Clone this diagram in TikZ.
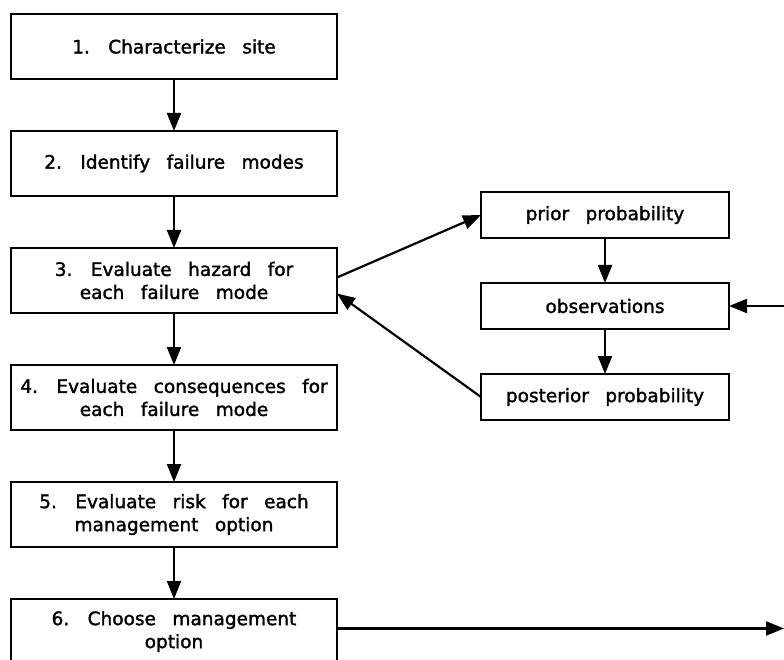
\documentclass[tikz,border=0pt]{standalone}
\usepackage{fontspec}
\setmainfont{DejaVu Sans}[WordSpace=2.8,FakeBold=1.6]
\usepackage{tikz}
\usetikzlibrary{arrows.meta,positioning}
\tikzset{
  paso/.style={
    draw=black,
    line width=2.2pt,
    outer sep=0pt,
    fill=white,
    align=center,
    minimum width=326pt,
    minimum height=65pt,
    inner sep=4pt,
    font=\fontsize{18.5pt}{23pt}\selectfont
  },
  prob/.style={
    draw=black,
    line width=2.2pt,
    outer sep=0pt,
    fill=white,
    align=center,
    minimum width=248pt,
    minimum height=46pt,
    inner sep=4pt,
    font=\fontsize{18.5pt}{23pt}\selectfont
  },
  arrow/.style={
    -{Triangle[length=18pt,width=14pt]},
    line width=2.2pt,
    black
  }
}
\begin{document}
\begin{tikzpicture}[x=1pt,y=-1pt,node distance=52pt]
\useasboundingbox (0,0) rectangle (784,660);
\node[paso] (s1) at (174,46.5) {1. Characterize site};
\node[paso,below=of s1] (s2) {2. Identify failure modes};
\node[paso,below=of s2] (s3) {3. Evaluate hazard for\\each failure mode};
\node[paso,below=of s3] (s4) {4. Evaluate consequences for\\each failure mode};
\node[paso,below=of s4] (s5) {5. Evaluate risk for each\\management option};
\node[paso,below=of s5] (s6) {6. Choose management\\option};
\node[prob] (prior) at (605,215) {prior probability};
\node[prob,below=45pt of prior] (obs) {observations};
\node[prob,below=45pt of obs] (post) {posterior probability};
\coordinate (obsin) at (784,306);
\coordinate (out) at (784,628.5);
\draw[arrow] (s1) -- (s2);
\draw[arrow] (s2) -- (s3);
\draw[arrow] (s3) -- (s4);
\draw[arrow] (s4) -- (s5);
\draw[arrow] (s5) -- (s6);
\draw[arrow] ([yshift=3pt]s3.east) -- (prior.west);
\draw[arrow] (post.west) -- ([yshift=-13pt]s3.east);
\draw[arrow] (prior) -- (obs);
\draw[arrow] (obs) -- (post);
\draw[arrow] (obsin) -- (obs.east);
\draw[arrow] ([yshift=3pt]s6.east) -- (out);
\end{tikzpicture}
\end{document}
